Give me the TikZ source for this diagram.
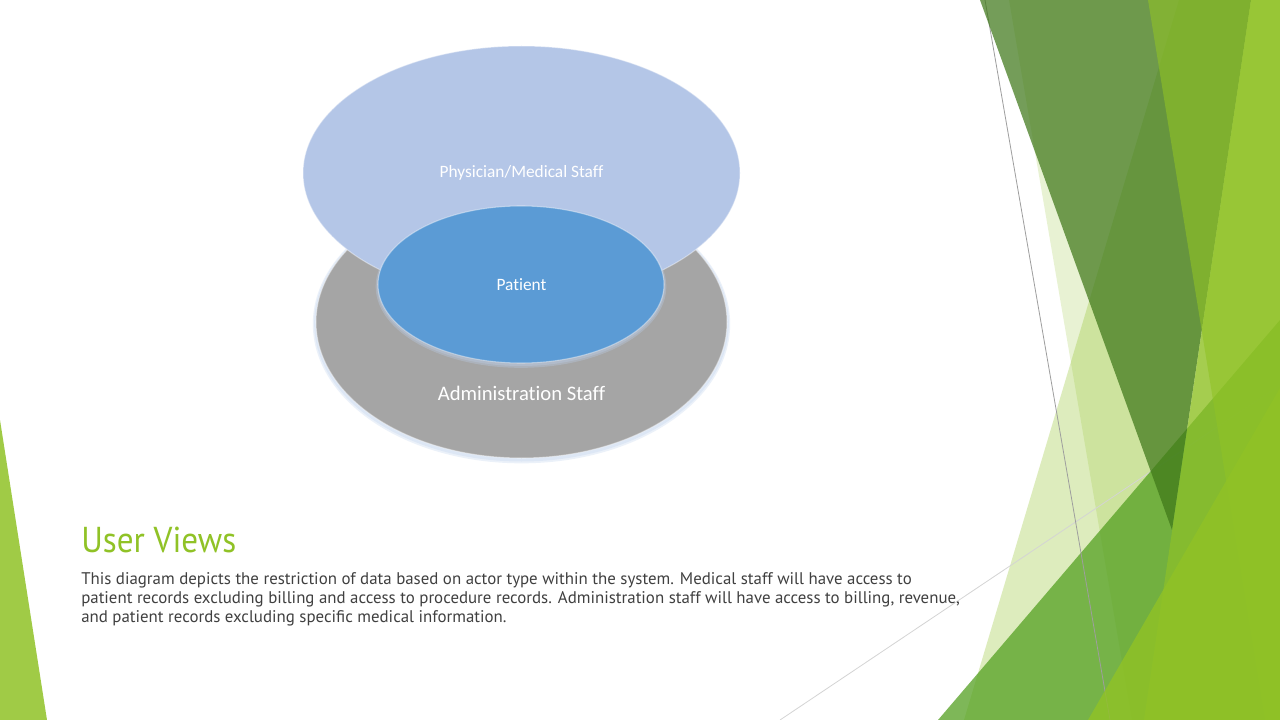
\documentclass[tikz,border=0pt]{standalone}
\usepackage{fontspec}
\setmainfont{Carlito}
\newfontfamily\bodyfont{PT Sans}
\newfontfamily\titlefont[FakeStretch=0.92]{PT Sans}
\newfontfamily\calfont[Ligatures=NoCommon]{Carlito}
\usetikzlibrary{shapes.geometric}
\definecolor{accA}{RGB}{144,194,38}
\definecolor{accB}{RGB}{84,160,33}
\definecolor{accDG}{RGB}{63,120,25}
\definecolor{lblue}{RGB}{180,198,231}
\definecolor{mblue}{RGB}{91,155,213}
\definecolor{mgrey}{RGB}{165,165,165}
\definecolor{bodytxt}{RGB}{64,64,64}
\definecolor{glowc}{RGB}{190,210,238}
\tikzset{
  facet/.style={fill=accA, draw=none},
  thinline/.style={line width=0.6pt},
  oval/.style={ellipse, inner sep=0pt, draw=white, draw opacity=0.4, line width=0.8pt},
  glow/.style={ellipse, inner sep=0pt, fill=glowc, fill opacity=0.3, draw=none},
  ovaltext/.style={text=white, inner sep=0pt, font=\calfont},
  bodyline/.style={anchor=base west, inner sep=0pt, text=bodytxt, font=\bodyfont\fontsize{12.65pt}{14pt}\selectfont},
}
\begin{document}
\begin{tikzpicture}[x=0.75pt, y=-0.75pt]
\useasboundingbox (0,0) rectangle (1280,720);
\fill[white] (0,0) rectangle (1280,720);

% ---- Facet decoration (right side) ----
\fill[facet, fill opacity=0.2] (1009,0) -- (1280,0) -- (1280,720) -- (1132,720) -- cycle;
\fill[facet, fill opacity=0.3] (1179,0) -- (1280,0) -- (1280,720) -- (964,720) -- cycle;
\draw[thinline, color=black!17] (780,720) -- (1280,385);
\fill[accB, fill opacity=0.75] (938,720) -- (1280,320) -- (1280,720) -- cycle;
\draw[thinline, color=black!38] (985,0) -- (1110,720);
\fill[accDG, fill opacity=0.72] (980,0) -- (1251,0) -- (1172,530) -- cycle;
\fill[facet, fill opacity=0.65] (1251,0) -- (1280,0) -- (1280,720) -- (1144,720) -- cycle;
\fill[facet, fill opacity=0.6] (1148,0) -- (1280,0) -- (1280,720) -- (1265,720) -- cycle;
\fill[facet, fill opacity=0.82] (1088,720) -- (1280,388) -- (1280,720) -- cycle;
% left bottom triangle
\fill[facet, fill opacity=0.85] (0,420) -- (47,720) -- (0,720) -- cycle;

% ---- diagram ----
\node[glow, minimum width=313pt, minimum height=209pt] (admglowA) at (521.5,324) {};
\node[glow, minimum width=311pt, minimum height=207pt] (admglowB) at (521.5,323.5) {};
\node[oval, fill=mgrey, minimum width=308.25pt, minimum height=204pt] (adm) at (521.5,322) {};
\node[oval, fill=lblue, minimum width=327.75pt, minimum height=190.5pt] (phys) at (521.5,173) {};
\node[glow, minimum width=218pt, minimum height=122pt] (patglowA) at (521,286.5) {};
\node[glow, minimum width=216pt, minimum height=120pt] (patglowB) at (521,286) {};
\node[oval, fill=mblue, minimum width=214.5pt, minimum height=117.75pt] (pat) at (521,284.5) {};

\node[ovaltext, font=\calfont\fontsize{13pt}{15pt}\selectfont] (physlbl) at (521.5,173) {Physician/Medical Staff};
\node[ovaltext, font=\calfont\fontsize{13pt}{15pt}\selectfont] (patlbl) at (521.5,284.5) {Patient};
\node[ovaltext, font=\calfont\fontsize{15.5pt}{18pt}\selectfont] (admlbl) at (521.5,393) {Administration Staff};

% ---- text ----
\node[anchor=base west, inner sep=0pt, text=accA, font=\titlefont\fontsize{27pt}{30pt}\selectfont] (title) at (81,552) {User Views};
\node[bodyline] (l1) at (81,584) {This diagram depicts the restriction of data based on actor type within the system. Medical staff will have access to};
\node[bodyline] (l2) at (81,603) {patient records excluding billing and access to procedure records. Administration staff will have access to billing, revenue,};
\node[bodyline] (l3) at (81,622) {and patient records excluding specific medical information.};
\end{tikzpicture}
\end{document}
